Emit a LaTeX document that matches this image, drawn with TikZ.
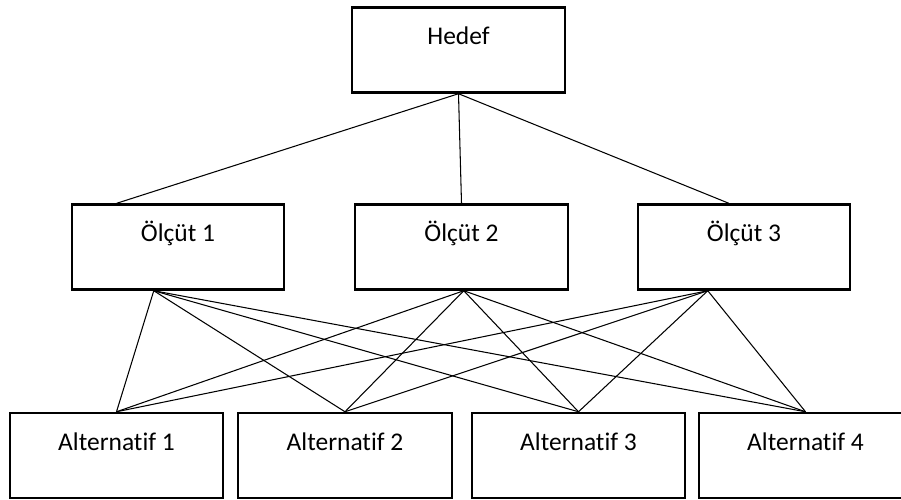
\documentclass[tikz,border=0pt]{standalone}
\usepackage{fontspec}
\setmainfont{Carlito}[Ligatures={NoCommon}]

\tikzset{
  box/.style={draw, line width=1.4pt, inner xsep=0pt, inner ysep=0pt,
    text height=0.74cm, text depth=0.96cm,
    font=\fontsize{14.5}{17}\selectfont},
  link/.style={line width=0.6pt}
}

\begin{document}
\begin{tikzpicture}

  \useasboundingbox (0,0) rectangle (18.02,-10);

  % goal at the top
  \node[box, minimum width=4.26cm] (hedef) at ({9.17}, -1.0) {Hedef};

  % criteria
  \node[box, minimum width=4.24cm] (c1) at ({3.56}, -4.94) {Ölçüt 1};
  \node[box, minimum width=4.26cm] (c2) at ({9.23}, -4.94) {Ölçüt 2};
  \node[box, minimum width=4.24cm] (c3) at ({14.88}, -4.94) {Ölçüt 3};

  % alternatives (the last one runs past the right edge)
  \node[box, minimum width=4.26cm] (a1) at ({2.33}, -9.11) {Alternatif 1};
  \node[box, minimum width=4.28cm] (a2) at ({6.9}, -9.11) {Alternatif 2};
  \node[box, minimum width=4.26cm] (a3) at ({11.57}, -9.11) {Alternatif 3};
  \node[box, minimum width=4.26cm] (a4) at ({16.11}, -9.11) {Alternatif 4};

  \draw[link] (hedef.south) -- ([xshift=0.92cm]c1.north west);
  \draw[link] (hedef.south) -- (c2.north);
  \draw[link] (hedef.south) -- ([xshift=1.84cm]c3.north west);

  % every criterion is tied to every alternative
  \coordinate (b1) at ([xshift=1.66cm]c1.south west);
  \coordinate (b2) at ([xshift=2.2cm]c2.south west);
  \coordinate (b3) at ([xshift=1.42cm]c3.south west);
  \foreach \i in
    {
        1,2,3%
    }
    {
      \foreach \j in {1,2,3,4}
        \draw[link] (b\i) -- (a\j.north);
    }

\end{tikzpicture}
\end{document}
